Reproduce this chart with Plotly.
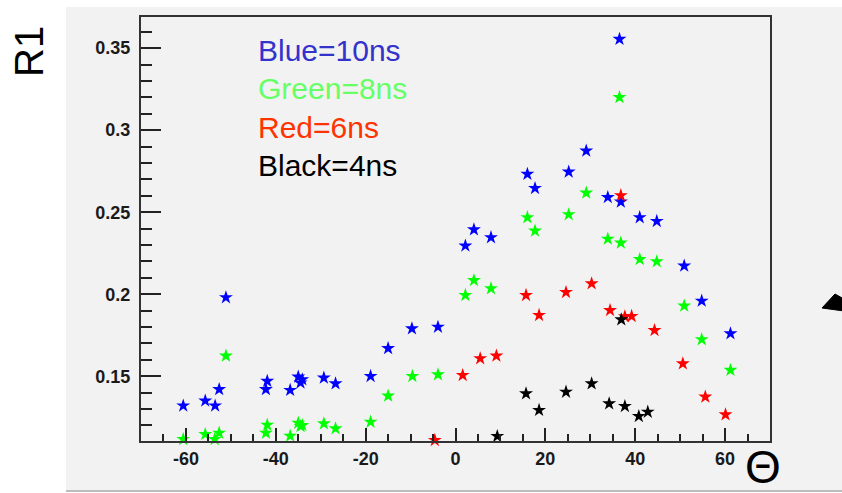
import plotly.graph_objects as go

# ---------------- data ----------------
blue_x = [-60.6, -55.7, -53.5, -52.6, -51.1, -42.2, -41.9, -36.8, -35.0, -34.1, -34.5,
          -29.3, -26.7, -18.9, -15.0, -9.7, -3.9, 2.2, 4.1, 7.9, 16.0, 17.7, 25.2, 29.1,
          33.9, 36.5, 36.8, 41.0, 44.8, 50.9, 54.8, 61.2]
blue_y = [0.132, 0.135, 0.132, 0.142, 0.198, 0.142, 0.147, 0.1415, 0.1496, 0.148, 0.146,
          0.149, 0.1455, 0.150, 0.167, 0.179, 0.180, 0.2295, 0.2394, 0.2346, 0.2732, 0.2646,
          0.2746, 0.2874, 0.2591, 0.3555, 0.2563, 0.2468, 0.2445, 0.2173, 0.1959, 0.176]

green_x = [-60.6, -55.7, -53.6, -52.6, -51.1, -42.2, -41.9, -36.8, -35.0, -34.1, -34.5,
           -29.3, -26.7, -18.9, -15.0, -9.6, -3.9, 2.2, 4.1, 7.9, 16.0, 17.7, 25.2, 29.1,
           33.9, 36.5, 36.8, 41.0, 44.8, 50.9, 54.8, 61.2]
green_y = [0.1116, 0.1146, 0.1116, 0.1154, 0.1624, 0.1154, 0.1203, 0.1136, 0.1215, 0.1201,
           0.1195, 0.1211, 0.1181, 0.1221, 0.138, 0.150, 0.151, 0.1994, 0.2085, 0.2035,
           0.2468, 0.2386, 0.2486, 0.2618, 0.2337, 0.320, 0.2313, 0.2213, 0.2199, 0.1929,
           0.1724, 0.1537]

red_x = [-4.6, 1.6, 5.5, 9.1, 15.7, 18.6, 24.6, 30.3, 34.4, 36.8, 37.7, 39.2, 44.3, 50.6,
         55.6, 60.1]
red_y = [0.111, 0.1506, 0.1608, 0.1624, 0.1994, 0.1872, 0.2012, 0.2065, 0.1902, 0.2602,
         0.1864, 0.1866, 0.178, 0.1577, 0.1374, 0.1266]

black_x = [9.3, 15.7, 18.6, 24.6, 30.3, 34.2, 36.9, 37.7, 40.8, 42.8]
black_y = [0.1134, 0.1394, 0.1293, 0.1404, 0.1455, 0.1333, 0.1845, 0.1317, 0.1256, 0.1282]

series_labels = ["Blue=10ns", "Green=8ns", "Red=6ns", "Black=4ns"]

x_tick_vals = [-60, -40, -20, 0, 20, 40, 60]
x_tick_text = ["-60", "-40", "-20", "0", "20", "40", "60"]
y_tick_vals = [0.15, 0.2, 0.25, 0.3, 0.35]
y_tick_text = ["0.15", "0.2", "0.25", "0.3", "0.35"]

# ---------------- layout geometry ----------------
W, H = 842, 493
L, R, T, B = 141, 770, 17, 441   # plot frame in pixels


def px(xp):
    return (xp - L) / (R - L)


def py(yp):
    return (B - yp) / (B - T)


fig = go.Figure()

marker_colors = ["#0000FF", "#00FF00", "#FF0000", "#000000"]
for xs, ys, c, name in zip([blue_x, green_x, red_x, black_x],
                           [blue_y, green_y, red_y, black_y],
                           marker_colors, series_labels):
    fig.add_trace(go.Scatter(x=xs, y=ys, mode="markers", name=name, cliponaxis=False,
                             marker=dict(symbol="star", size=10.5, color=c,
                                         line=dict(width=0))))

tickfont = dict(family="Liberation Sans, Arial, sans-serif", size=18, color="#1a1a1a",
                weight="bold")

fig.update_xaxes(range=[-70, 70], tickvals=x_tick_vals, ticktext=x_tick_text,
                 ticks="inside", ticklen=13, tickwidth=1.5, tickcolor="#222",
                 showline=True, linecolor="#333", linewidth=2, mirror=True,
                 showgrid=False, zeroline=False, tickfont=tickfont,
                 ticklabelstandoff=0,
                 minor=dict(tick0=0, dtick=5, ticks="inside", ticklen=7,
                            tickwidth=1.5, tickcolor="#222", showgrid=False))
fig.update_yaxes(range=[0.1105, 0.369], tickvals=y_tick_vals, ticktext=y_tick_text,
                 ticks="inside", ticklen=20, tickwidth=1.5, tickcolor="#222",
                 showline=True, linecolor="#333", linewidth=2, mirror=True,
                 showgrid=False, zeroline=False, tickfont=tickfont,
                 ticklabelstandoff=5,
                 minor=dict(tick0=0, dtick=0.01, ticks="inside", ticklen=11,
                            tickwidth=1.5, tickcolor="#222", showgrid=False))

shapes = [
    # grey canvas panel
    dict(type="rect", xref="paper", yref="paper", x0=px(66), x1=px(850), y0=py(490),
         y1=py(7), fillcolor="#F2F2F2", line=dict(width=0), layer="below"),
    # bottom border line of the panel
    dict(type="line", xref="paper", yref="paper", x0=px(66), x1=px(850), y0=py(491),
         y1=py(491), line=dict(color="#BDBDBD", width=2)),
    # arrow head entering from the right edge
    dict(type="path", xref="paper", yref="paper",
         path=(f"M {px(822)} {py(308)} L {px(835)} {py(294)} L {px(844)} {py(299)} "
               f"L {px(844)} {py(311)} Z"),
         fillcolor="black", line=dict(color="black", width=1)),
]

label_colors = ["#3333CC", "#66FF66", "#FF3300", "#000000"]
label_y = [50, 88.5, 127.5, 165]
annotations = []
for txt, c, yy in zip(series_labels, label_colors, label_y):
    annotations.append(dict(text=txt, xref="paper", yref="paper", x=px(256), y=py(yy),
                            xanchor="left", yanchor="middle", showarrow=False,
                            font=dict(family="Liberation Sans, Arial, sans-serif",
                                      size=30, color=c)))
annotations.append(dict(text="R1", xref="paper", yref="paper", x=px(29), y=py(52),
                        xanchor="center", yanchor="middle", showarrow=False,
                        textangle=-90,
                        font=dict(family="Liberation Sans, Arial, sans-serif",
                                  size=40, color="black")))
annotations.append(dict(text="\u0398", xref="paper", yref="paper", x=px(763), y=py(467),
                        xanchor="center", yanchor="middle", showarrow=False,
                        font=dict(family="Liberation Sans, Arial, sans-serif",
                                  size=46, color="black")))

fig.update_layout(width=W, height=H, margin=dict(l=L, r=W - R, t=T, b=H - B),
                  paper_bgcolor="white", plot_bgcolor="#F2F2F2", showlegend=False,
                  shapes=shapes, annotations=annotations)

fig.write_html("out.html")
